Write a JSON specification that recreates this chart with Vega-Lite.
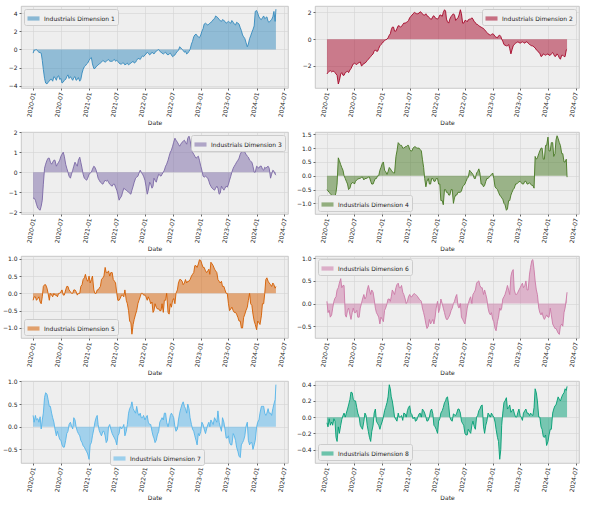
{
  "$schema": "https://vega.github.io/schema/vega-lite/v6.json",
  "background": "white",
  "padding": {"left": 2, "top": 5, "right": 5, "bottom": 0},
  "columns": 2,
  "spacing": {"row": 2, "column": 7},
  "data": {
    "values": [
      {"date": "2020-01-01", "d1": -0.4, "d2": -2.6, "d3": -1.3, "d4": -0.5, "d5": -0.2, "d6": 0.05, "d7": 0.25, "d8": -0.07},
      {"date": "2020-01-16", "d1": -0.05, "d2": -2.4, "d3": -1.4, "d4": -0.6, "d5": -0.1, "d6": -0.15, "d7": 0.25, "d8": -0.02},
      {"date": "2020-02-01", "d1": -0.2, "d2": -2.45, "d3": -1.8, "d4": -0.7, "d5": -0.15, "d6": -0.25, "d7": 0.18, "d8": -0.06},
      {"date": "2020-02-16", "d1": -0.35, "d2": -2.4, "d3": -1.9, "d4": -0.9, "d5": -0.25, "d6": 0.05, "d7": 0.22, "d8": -0.02},
      {"date": "2020-03-01", "d1": -1.2, "d2": -2.6, "d3": -1.4, "d4": -0.6, "d5": -0.1, "d6": 0.15, "d7": 0.15, "d8": -0.25},
      {"date": "2020-03-16", "d1": -3.2, "d2": -3.35, "d3": 0.2, "d4": 0.65, "d5": 0.25, "d6": 0.35, "d7": 0.65, "d8": -0.12},
      {"date": "2020-04-01", "d1": -3.8, "d2": -2.6, "d3": 0.6, "d4": 0.4, "d5": 0.15, "d6": 0.55, "d7": 0.72, "d8": -0.1},
      {"date": "2020-04-16", "d1": -3.5, "d2": -2.7, "d3": 0.7, "d4": 0.2, "d5": -0.2, "d6": 0.4, "d7": 0.45, "d8": 0.02},
      {"date": "2020-05-01", "d1": -3.3, "d2": -2.5, "d3": 0.4, "d4": -0.1, "d5": -0.05, "d6": -0.25, "d7": 0.3, "d8": 0.0},
      {"date": "2020-05-16", "d1": -3.0, "d2": -2.4, "d3": 0.6, "d4": -0.3, "d5": 0.0, "d6": -0.15, "d7": 0.1, "d8": 0.1},
      {"date": "2020-06-01", "d1": -3.4, "d2": -2.3, "d3": 0.3, "d4": -0.45, "d5": -0.05, "d6": -0.25, "d7": -0.2, "d8": 0.22},
      {"date": "2020-06-16", "d1": -2.9, "d2": -2.0, "d3": 0.5, "d4": -0.25, "d5": 0.0, "d6": -0.2, "d7": -0.2, "d8": 0.3},
      {"date": "2020-07-01", "d1": -3.2, "d2": -1.8, "d3": 0.8, "d4": -0.3, "d5": 0.05, "d6": -0.2, "d7": -0.3, "d8": 0.2},
      {"date": "2020-07-16", "d1": -3.6, "d2": -1.9, "d3": 1.0, "d4": -0.15, "d5": -0.05, "d6": -0.15, "d7": -0.45, "d8": 0.12},
      {"date": "2020-08-01", "d1": -3.3, "d2": -1.75, "d3": 0.4, "d4": -0.1, "d5": 0.1, "d6": -0.3, "d7": -0.3, "d8": 0.0},
      {"date": "2020-08-16", "d1": -2.8, "d2": -2.0, "d3": 0.0, "d4": -0.05, "d5": 0.2, "d6": 0.0, "d7": -0.1, "d8": -0.13},
      {"date": "2020-09-01", "d1": -3.0, "d2": -1.8, "d3": -0.3, "d4": -0.15, "d5": 0.05, "d6": 0.2, "d7": 0.1, "d8": -0.05},
      {"date": "2020-09-16", "d1": -3.4, "d2": -1.7, "d3": 0.1, "d4": -0.1, "d5": 0.0, "d6": 0.15, "d7": -0.05, "d8": 0.02},
      {"date": "2020-10-01", "d1": -3.0, "d2": -1.5, "d3": 0.5, "d4": -0.05, "d5": 0.1, "d6": 0.4, "d7": 0.15, "d8": -0.18},
      {"date": "2020-10-16", "d1": -3.3, "d2": -1.3, "d3": 0.3, "d4": -0.2, "d5": -0.05, "d6": 0.2, "d7": -0.1, "d8": -0.3},
      {"date": "2020-11-01", "d1": -3.5, "d2": -1.1, "d3": 0.75, "d4": -0.3, "d5": 0.0, "d6": 0.25, "d7": -0.2, "d8": -0.1},
      {"date": "2020-11-16", "d1": -2.6, "d2": -0.8, "d3": 0.2, "d4": -0.1, "d5": 0.25, "d6": -0.1, "d7": -0.35, "d8": 0.1},
      {"date": "2020-12-01", "d1": -1.9, "d2": -0.9, "d3": -0.3, "d4": 0.0, "d5": 0.45, "d6": -0.25, "d7": -0.45, "d8": -0.08},
      {"date": "2020-12-16", "d1": -1.6, "d2": -0.5, "d3": -0.4, "d4": 0.2, "d5": 0.4, "d6": -0.45, "d7": -0.55, "d8": -0.15},
      {"date": "2021-01-01", "d1": -1.2, "d2": -0.3, "d3": -0.1, "d4": 0.45, "d5": 0.5, "d6": -0.35, "d7": -0.72, "d8": -0.05},
      {"date": "2021-01-16", "d1": -0.9, "d2": -0.1, "d3": 0.0, "d4": 0.2, "d5": 0.4, "d6": -0.15, "d7": -0.35, "d8": 0.08},
      {"date": "2021-02-01", "d1": -2.1, "d2": 0.0, "d3": 0.3, "d4": 0.05, "d5": 0.1, "d6": 0.0, "d7": -0.05, "d8": 0.18},
      {"date": "2021-02-16", "d1": -1.9, "d2": 0.3, "d3": 0.1, "d4": 0.3, "d5": 0.0, "d6": 0.1, "d7": 0.2, "d8": 0.4},
      {"date": "2021-03-01", "d1": -1.7, "d2": 0.7, "d3": -0.3, "d4": 0.2, "d5": 0.1, "d6": 0.15, "d7": 0.05, "d8": 0.25},
      {"date": "2021-03-16", "d1": -1.5, "d2": 0.9, "d3": -0.5, "d4": 0.1, "d5": 0.2, "d6": 0.25, "d7": -0.15, "d8": 0.1},
      {"date": "2021-04-01", "d1": -1.2, "d2": 0.6, "d3": -0.6, "d4": 0.7, "d5": 0.45, "d6": 0.35, "d7": -0.1, "d8": -0.03},
      {"date": "2021-04-16", "d1": -1.4, "d2": 1.0, "d3": -0.4, "d4": 1.2, "d5": 0.75, "d6": 0.45, "d7": -0.2, "d8": 0.05},
      {"date": "2021-05-01", "d1": -1.2, "d2": 0.9, "d3": -0.4, "d4": 1.1, "d5": 0.6, "d6": 0.35, "d7": -0.3, "d8": 0.0},
      {"date": "2021-05-16", "d1": -1.3, "d2": 1.1, "d3": -0.6, "d4": 1.0, "d5": 0.5, "d6": 0.25, "d7": 0.05, "d8": -0.04},
      {"date": "2021-06-01", "d1": -1.3, "d2": 1.2, "d3": -0.7, "d4": 1.05, "d5": 0.6, "d6": 0.1, "d7": -0.15, "d8": 0.04},
      {"date": "2021-06-16", "d1": -1.1, "d2": 1.3, "d3": -0.6, "d4": 1.1, "d5": 0.35, "d6": 0.05, "d7": -0.25, "d8": 0.08},
      {"date": "2021-07-01", "d1": -1.2, "d2": 1.6, "d3": -0.9, "d4": 0.95, "d5": 0.0, "d6": 0.2, "d7": -0.4, "d8": 0.14},
      {"date": "2021-07-16", "d1": -1.5, "d2": 1.8, "d3": -1.4, "d4": 0.9, "d5": -0.2, "d6": 0.15, "d7": -0.15, "d8": 0.03},
      {"date": "2021-08-01", "d1": -1.6, "d2": 2.0, "d3": -1.2, "d4": 1.05, "d5": -0.05, "d6": 0.22, "d7": -0.05, "d8": 0.0},
      {"date": "2021-08-16", "d1": -1.5, "d2": 1.9, "d3": -0.8, "d4": 1.0, "d5": -0.1, "d6": 0.18, "d7": 0.05, "d8": -0.04},
      {"date": "2021-09-01", "d1": -1.6, "d2": 1.95, "d3": -0.9, "d4": 1.0, "d5": -0.2, "d6": 0.1, "d7": -0.1, "d8": 0.04},
      {"date": "2021-09-16", "d1": -1.7, "d2": 2.0, "d3": -1.0, "d4": 0.9, "d5": -0.5, "d6": 0.05, "d7": 0.3, "d8": 0.0},
      {"date": "2021-10-01", "d1": -1.5, "d2": 1.8, "d3": -1.1, "d4": 0.3, "d5": -0.85, "d6": -0.2, "d7": 0.45, "d8": 0.08},
      {"date": "2021-10-16", "d1": -1.3, "d2": 1.9, "d3": -0.7, "d4": -0.4, "d5": -0.9, "d6": -0.45, "d7": 0.4, "d8": 0.0},
      {"date": "2021-11-01", "d1": -1.4, "d2": 1.7, "d3": -0.3, "d4": -0.1, "d5": -0.6, "d6": -0.5, "d7": 0.3, "d8": -0.04},
      {"date": "2021-11-16", "d1": -1.0, "d2": 1.5, "d3": -0.2, "d4": -0.3, "d5": -0.3, "d6": -0.45, "d7": 0.3, "d8": 0.08},
      {"date": "2021-12-01", "d1": -1.1, "d2": 1.7, "d3": 0.1, "d4": -0.1, "d5": -0.1, "d6": -0.35, "d7": 0.3, "d8": 0.04},
      {"date": "2021-12-16", "d1": -0.7, "d2": 1.6, "d3": -0.1, "d4": -0.2, "d5": 0.0, "d6": -0.3, "d7": 0.2, "d8": -0.12},
      {"date": "2022-01-01", "d1": -0.6, "d2": 1.5, "d3": -0.4, "d4": -0.1, "d5": -0.05, "d6": 0.05, "d7": 0.15, "d8": -0.2},
      {"date": "2022-01-16", "d1": -0.3, "d2": 1.8, "d3": -1.1, "d4": -0.3, "d5": -0.2, "d6": -0.1, "d7": 0.25, "d8": -0.02},
      {"date": "2022-02-01", "d1": -0.6, "d2": 1.7, "d3": -0.5, "d4": -0.9, "d5": -0.2, "d6": 0.0, "d7": 0.05, "d8": 0.08},
      {"date": "2022-02-16", "d1": -0.3, "d2": 2.2, "d3": -0.8, "d4": -0.5, "d5": -0.25, "d6": -0.2, "d7": -0.1, "d8": 0.18},
      {"date": "2022-03-01", "d1": -0.5, "d2": 1.5, "d3": -0.3, "d4": -0.6, "d5": -0.5, "d6": -0.35, "d7": -0.25, "d8": 0.24},
      {"date": "2022-03-16", "d1": -0.2, "d2": 1.2, "d3": -0.5, "d4": -0.7, "d5": -0.4, "d6": -0.3, "d7": -0.3, "d8": 0.14},
      {"date": "2022-04-01", "d1": 0.0, "d2": 1.7, "d3": -0.1, "d4": -0.5, "d5": -0.45, "d6": -0.15, "d7": -0.1, "d8": -0.04},
      {"date": "2022-04-16", "d1": -0.3, "d2": 1.9, "d3": -0.2, "d4": -1.0, "d5": -0.5, "d6": 0.0, "d7": 0.15, "d8": 0.04},
      {"date": "2022-05-01", "d1": -0.5, "d2": 1.4, "d3": 0.0, "d4": -0.7, "d5": -0.55, "d6": 0.15, "d7": 0.15, "d8": 0.02},
      {"date": "2022-05-16", "d1": -0.3, "d2": 1.6, "d3": 0.3, "d4": -0.6, "d5": -0.2, "d6": -0.05, "d7": 0.3, "d8": 0.1},
      {"date": "2022-06-01", "d1": -0.6, "d2": 2.2, "d3": 0.6, "d4": -0.6, "d5": -0.55, "d6": 0.0, "d7": 0.0, "d8": 0.05},
      {"date": "2022-06-16", "d1": -0.4, "d2": 1.2, "d3": 1.0, "d4": -0.4, "d5": -0.3, "d6": -0.35, "d7": 0.25, "d8": -0.08},
      {"date": "2022-07-01", "d1": -0.8, "d2": 1.4, "d3": 1.3, "d4": -0.3, "d5": -0.2, "d6": -0.45, "d7": 0.25, "d8": -0.2},
      {"date": "2022-07-16", "d1": -0.6, "d2": 1.3, "d3": 1.7, "d4": -0.1, "d5": -0.3, "d6": -0.1, "d7": 0.0, "d8": -0.22},
      {"date": "2022-08-01", "d1": -0.2, "d2": 1.5, "d3": 1.5, "d4": 0.2, "d5": 0.1, "d6": 0.1, "d7": -0.05, "d8": -0.18},
      {"date": "2022-08-16", "d1": 0.3, "d2": 1.6, "d3": 1.3, "d4": 0.1, "d5": 0.4, "d6": 0.0, "d7": 0.3, "d8": -0.1},
      {"date": "2022-09-01", "d1": 0.0, "d2": 1.3, "d3": 1.5, "d4": -0.1, "d5": 0.35, "d6": 0.25, "d7": 0.5, "d8": -0.12},
      {"date": "2022-09-16", "d1": -0.3, "d2": 1.1, "d3": 1.6, "d4": 0.1, "d5": 0.3, "d6": 0.45, "d7": 0.45, "d8": 0.0},
      {"date": "2022-10-01", "d1": -0.5, "d2": 1.0, "d3": 1.4, "d4": 0.25, "d5": 0.3, "d6": 0.5, "d7": 0.3, "d8": 0.08},
      {"date": "2022-10-16", "d1": -0.2, "d2": 0.9, "d3": 1.8, "d4": -0.3, "d5": 0.35, "d6": 0.35, "d7": 0.4, "d8": 0.14},
      {"date": "2022-11-01", "d1": 0.6, "d2": 0.8, "d3": 1.2, "d4": -0.4, "d5": 0.5, "d6": 0.2, "d7": 0.05, "d8": -0.12},
      {"date": "2022-11-16", "d1": 1.4, "d2": 0.6, "d3": 0.9, "d4": -0.2, "d5": 0.6, "d6": 0.2, "d7": -0.1, "d8": -0.1},
      {"date": "2022-12-01", "d1": 1.7, "d2": 0.4, "d3": 0.7, "d4": -0.1, "d5": 0.8, "d6": -0.1, "d7": -0.3, "d8": 0.05},
      {"date": "2022-12-16", "d1": 1.4, "d2": 0.3, "d3": 0.8, "d4": 0.0, "d5": 0.85, "d6": -0.25, "d7": -0.15, "d8": 0.0},
      {"date": "2023-01-01", "d1": 1.6, "d2": 0.4, "d3": 0.3, "d4": 0.1, "d5": 0.95, "d6": -0.35, "d7": -0.1, "d8": 0.02},
      {"date": "2023-01-16", "d1": 2.3, "d2": 0.2, "d3": -0.2, "d4": -0.4, "d5": 0.75, "d6": -0.55, "d7": 0.05, "d8": -0.06},
      {"date": "2023-02-01", "d1": 2.9, "d2": 0.1, "d3": -0.2, "d4": -0.5, "d5": 0.65, "d6": -0.4, "d7": -0.15, "d8": -0.25},
      {"date": "2023-02-16", "d1": 2.7, "d2": 0.3, "d3": -0.3, "d4": -0.7, "d5": 0.65, "d6": -0.1, "d7": 0.05, "d8": -0.52},
      {"date": "2023-03-01", "d1": 2.9, "d2": 0.0, "d3": -0.6, "d4": -0.8, "d5": 0.55, "d6": -0.1, "d7": 0.0, "d8": -0.1},
      {"date": "2023-03-16", "d1": 3.1, "d2": -0.4, "d3": -0.8, "d4": -1.0, "d5": 0.85, "d6": 0.15, "d7": 0.1, "d8": 0.18},
      {"date": "2023-04-01", "d1": 3.4, "d2": -0.5, "d3": -0.9, "d4": -1.25, "d5": 0.7, "d6": 0.3, "d7": 0.2, "d8": 0.24},
      {"date": "2023-04-16", "d1": 3.6, "d2": -0.4, "d3": -0.7, "d4": -0.9, "d5": 0.6, "d6": 0.3, "d7": 0.1, "d8": 0.12},
      {"date": "2023-05-01", "d1": 3.3, "d2": -1.1, "d3": -1.1, "d4": -0.7, "d5": 0.35, "d6": 0.6, "d7": 0.1, "d8": 0.06},
      {"date": "2023-05-16", "d1": 3.1, "d2": -0.5, "d3": -0.7, "d4": -0.5, "d5": 0.35, "d6": 0.75, "d7": -0.1, "d8": 0.1},
      {"date": "2023-06-01", "d1": 3.2, "d2": -0.3, "d3": -0.9, "d4": -0.3, "d5": 0.2, "d6": 0.2, "d7": 0.1, "d8": 0.0},
      {"date": "2023-06-16", "d1": 2.9, "d2": -0.2, "d3": -0.7, "d4": -0.25, "d5": 0.0, "d6": 0.25, "d7": -0.25, "d8": 0.06},
      {"date": "2023-07-01", "d1": 3.1, "d2": -0.3, "d3": -0.6, "d4": -0.2, "d5": -0.3, "d6": 0.35, "d7": -0.2, "d8": 0.02},
      {"date": "2023-07-16", "d1": 2.9, "d2": -0.2, "d3": -0.2, "d4": -0.3, "d5": -0.45, "d6": 0.45, "d7": -0.4, "d8": -0.04},
      {"date": "2023-08-01", "d1": 3.0, "d2": -0.3, "d3": 0.2, "d4": -0.2, "d5": -0.5, "d6": 0.4, "d7": -0.15, "d8": 0.08},
      {"date": "2023-08-16", "d1": 2.7, "d2": -0.2, "d3": 0.4, "d4": -0.3, "d5": -0.55, "d6": 0.3, "d7": -0.3, "d8": 0.05},
      {"date": "2023-09-01", "d1": 2.9, "d2": -0.4, "d3": 0.6, "d4": -0.25, "d5": -0.7, "d6": 0.65, "d7": -0.55, "d8": 0.02},
      {"date": "2023-09-16", "d1": 2.4, "d2": -0.5, "d3": 0.9, "d4": -0.35, "d5": -0.8, "d6": 0.95, "d7": -0.68, "d8": 0.03},
      {"date": "2023-10-01", "d1": 1.6, "d2": -0.6, "d3": 1.1, "d4": -0.45, "d5": -1.0, "d6": 0.75, "d7": -0.35, "d8": 0.12},
      {"date": "2023-10-16", "d1": 1.2, "d2": -0.8, "d3": 1.0, "d4": 0.6, "d5": -0.6, "d6": 0.3, "d7": -0.2, "d8": 0.3},
      {"date": "2023-11-01", "d1": 0.3, "d2": -1.0, "d3": 0.8, "d4": 0.8, "d5": -0.4, "d6": -0.1, "d7": 0.1, "d8": 0.0},
      {"date": "2023-11-16", "d1": 1.2, "d2": -1.3, "d3": 0.6, "d4": 1.0, "d5": 0.0, "d6": -0.25, "d7": -0.4, "d8": -0.12},
      {"date": "2023-12-01", "d1": 1.9, "d2": -1.1, "d3": 0.5, "d4": 0.6, "d5": -0.35, "d6": -0.3, "d7": -0.35, "d8": -0.24},
      {"date": "2023-12-16", "d1": 2.6, "d2": -1.2, "d3": 0.0, "d4": 1.1, "d5": -0.8, "d6": -0.3, "d7": -0.4, "d8": -0.22},
      {"date": "2024-01-01", "d1": 4.3, "d2": -1.1, "d3": 0.3, "d4": 1.4, "d5": -1.05, "d6": -0.3, "d7": 0.0, "d8": -0.3},
      {"date": "2024-01-16", "d1": 3.6, "d2": -1.2, "d3": 0.2, "d4": 0.9, "d5": -0.85, "d6": -0.1, "d7": 0.15, "d8": -0.15},
      {"date": "2024-02-01", "d1": 3.3, "d2": -1.0, "d3": 0.3, "d4": 1.2, "d5": -0.65, "d6": -0.45, "d7": 0.45, "d8": 0.05},
      {"date": "2024-02-16", "d1": 3.7, "d2": -1.3, "d3": 0.1, "d4": 0.8, "d5": -0.3, "d6": -0.55, "d7": 0.45, "d8": 0.14},
      {"date": "2024-03-01", "d1": 3.5, "d2": -1.1, "d3": 0.2, "d4": 1.45, "d5": 0.4, "d6": -0.6, "d7": 0.25, "d8": 0.2},
      {"date": "2024-03-16", "d1": 3.1, "d2": -1.4, "d3": 0.3, "d4": 1.2, "d5": 0.35, "d6": -0.68, "d7": 0.4, "d8": 0.22},
      {"date": "2024-04-01", "d1": 3.2, "d2": -1.2, "d3": -0.3, "d4": 0.8, "d5": 0.25, "d6": -0.45, "d7": 0.3, "d8": 0.25},
      {"date": "2024-04-16", "d1": 3.6, "d2": -1.3, "d3": 0.1, "d4": 0.5, "d5": 0.3, "d6": -0.2, "d7": 0.4, "d8": 0.3},
      {"date": "2024-05-01", "d1": 3.1, "d2": -0.8, "d3": -0.1, "d4": 0.6, "d5": 0.15, "d6": 0.1, "d7": 0.6, "d8": 0.33},
      {"date": "2024-05-06", "d1": 4.45, "d2": -0.75, "d3": -0.15, "d4": -0.05, "d5": 0.2, "d6": 0.25, "d7": 0.93, "d8": 0.38},
      {"date": "2020-01-08", "d1": -0.1, "d2": -2.5, "d3": -1.3, "d4": -0.55, "d5": -0.1, "d6": -0.2, "d7": 0.1, "d8": -0.12},
      {"date": "2020-01-23", "d1": 0.0, "d2": -2.35, "d3": -1.6, "d4": -0.65, "d5": -0.2, "d6": -0.3, "d7": 0.15, "d8": -0.1},
      {"date": "2020-02-08", "d1": -0.3, "d2": -2.4, "d3": -1.85, "d4": -0.8, "d5": -0.1, "d6": -0.1, "d7": 0.1, "d8": -0.1},
      {"date": "2020-02-23", "d1": -0.4, "d2": -2.5, "d3": -1.7, "d4": -0.75, "d5": -0.3, "d6": 0.12, "d7": -0.05, "d8": -0.05},
      {"date": "2020-03-08", "d1": -2.2, "d2": -2.7, "d3": -0.6, "d4": -0.3, "d5": 0.2, "d6": 0.3, "d7": 0.3, "d8": -0.3},
      {"date": "2020-03-23", "d1": -3.7, "d2": -3.1, "d3": 0.4, "d4": 0.55, "d5": 0.25, "d6": 0.45, "d7": 0.75, "d8": -0.2},
      {"date": "2020-04-08", "d1": -3.6, "d2": -2.5, "d3": 0.7, "d4": 0.3, "d5": 0.0, "d6": 0.35, "d7": 0.6, "d8": -0.03},
      {"date": "2020-04-23", "d1": -3.3, "d2": -2.7, "d3": 0.5, "d4": 0.0, "d5": 0.0, "d6": 0.4, "d7": 0.45, "d8": 0.05},
      {"date": "2020-05-08", "d1": -3.5, "d2": -2.45, "d3": 0.5, "d4": -0.2, "d5": -0.1, "d6": -0.3, "d7": 0.2, "d8": 0.05},
      {"date": "2020-05-23", "d1": -3.1, "d2": -2.5, "d3": 0.6, "d4": -0.5, "d5": -0.05, "d6": -0.1, "d7": -0.05, "d8": 0.15},
      {"date": "2020-06-08", "d1": -3.0, "d2": -2.2, "d3": 0.4, "d4": -0.3, "d5": -0.1, "d6": -0.35, "d7": -0.1, "d8": 0.31},
      {"date": "2020-06-23", "d1": -3.3, "d2": -1.85, "d3": 0.6, "d4": -0.25, "d5": 0.0, "d6": -0.1, "d7": -0.28, "d8": 0.22},
      {"date": "2020-07-08", "d1": -3.7, "d2": -1.85, "d3": 0.9, "d4": -0.2, "d5": 0.1, "d6": -0.2, "d7": -0.4, "d8": 0.2},
      {"date": "2020-07-23", "d1": -3.4, "d2": -1.8, "d3": 0.8, "d4": -0.12, "d5": -0.05, "d6": -0.3, "d7": -0.45, "d8": 0.05},
      {"date": "2020-08-08", "d1": -3.0, "d2": -1.7, "d3": 0.2, "d4": -0.1, "d5": 0.2, "d6": -0.1, "d7": -0.15, "d8": -0.1},
      {"date": "2020-08-23", "d1": -3.2, "d2": -1.95, "d3": -0.2, "d4": -0.05, "d5": 0.1, "d6": 0.1, "d7": 0.05, "d8": -0.15},
      {"date": "2020-09-08", "d1": -3.2, "d2": -1.8, "d3": -0.1, "d4": -0.1, "d5": 0.0, "d6": 0.1, "d7": 0.02, "d8": 0.05},
      {"date": "2020-09-23", "d1": -3.1, "d2": -1.6, "d3": 0.3, "d4": -0.08, "d5": 0.1, "d6": 0.3, "d7": 0.2, "d8": -0.1},
      {"date": "2020-10-08", "d1": -3.4, "d2": -1.4, "d3": 0.4, "d4": -0.05, "d5": 0.05, "d6": 0.3, "d7": 0.0, "d8": -0.25},
      {"date": "2020-10-23", "d1": -3.1, "d2": -1.2, "d3": 0.6, "d4": -0.3, "d5": 0.0, "d6": 0.3, "d7": -0.15, "d8": -0.18},
      {"date": "2020-11-08", "d1": -3.3, "d2": -0.9, "d3": 0.5, "d4": -0.2, "d5": 0.2, "d6": 0.1, "d7": -0.3, "d8": 0.05},
      {"date": "2020-11-23", "d1": -2.2, "d2": -0.9, "d3": -0.1, "d4": -0.1, "d5": 0.4, "d6": -0.2, "d7": -0.42, "d8": -0.05},
      {"date": "2020-12-08", "d1": -1.8, "d2": -0.7, "d3": -0.35, "d4": 0.0, "d5": 0.55, "d6": -0.3, "d7": -0.5, "d8": -0.1},
      {"date": "2020-12-23", "d1": -1.5, "d2": -0.4, "d3": -0.3, "d4": 0.3, "d5": 0.35, "d6": -0.3, "d7": -0.6, "d8": -0.1},
      {"date": "2021-01-08", "d1": -1.0, "d2": -0.2, "d3": -0.05, "d4": 0.5, "d5": 0.3, "d6": -0.4, "d7": -0.4, "d8": 0.0},
      {"date": "2021-01-23", "d1": -1.6, "d2": -0.05, "d3": 0.15, "d4": 0.15, "d5": 0.5, "d6": -0.1, "d7": -0.2, "d8": 0.12},
      {"date": "2021-02-08", "d1": -2.1, "d2": 0.1, "d3": 0.25, "d4": 0.15, "d5": 0.0, "d6": 0.1, "d7": 0.1, "d8": 0.25},
      {"date": "2021-02-23", "d1": -1.8, "d2": 0.4, "d3": -0.1, "d4": 0.25, "d5": 0.1, "d6": 0.05, "d7": 0.25, "d8": 0.35},
      {"date": "2021-03-08", "d1": -1.6, "d2": 0.9, "d3": -0.4, "d4": 0.15, "d5": 0.15, "d6": 0.3, "d7": -0.08, "d8": 0.2},
      {"date": "2021-03-23", "d1": -1.4, "d2": 0.6, "d3": -0.55, "d4": 0.1, "d5": 0.4, "d6": 0.2, "d7": -0.2, "d8": 0.0},
      {"date": "2021-04-08", "d1": -1.3, "d2": 0.8, "d3": -0.5, "d4": 0.9, "d5": 0.5, "d6": 0.42, "d7": -0.1, "d8": -0.05},
      {"date": "2021-04-23", "d1": -1.3, "d2": 1.0, "d3": -0.45, "d4": 1.15, "d5": 0.6, "d6": 0.35, "d7": -0.35, "d8": 0.0},
      {"date": "2021-05-08", "d1": -1.1, "d2": 0.95, "d3": -0.5, "d4": 1.1, "d5": 0.65, "d6": 0.4, "d7": 0.0, "d8": 0.02},
      {"date": "2021-05-23", "d1": -1.3, "d2": 1.2, "d3": -0.65, "d4": 1.0, "d5": 0.6, "d6": 0.2, "d7": -0.05, "d8": 0.05},
      {"date": "2021-06-08", "d1": -1.2, "d2": 1.25, "d3": -0.6, "d4": 1.05, "d5": 0.4, "d6": 0.0, "d7": -0.2, "d8": 0.0},
      {"date": "2021-06-23", "d1": -1.3, "d2": 1.4, "d3": -0.75, "d4": 1.1, "d5": 0.3, "d6": 0.15, "d7": -0.3, "d8": 0.12},
      {"date": "2021-07-08", "d1": -1.3, "d2": 1.7, "d3": -1.1, "d4": 0.9, "d5": -0.2, "d6": 0.15, "d7": -0.2, "d8": 0.05},
      {"date": "2021-07-23", "d1": -1.6, "d2": 1.9, "d3": -1.3, "d4": 1.0, "d5": -0.15, "d6": 0.2, "d7": 0.0, "d8": -0.02},
      {"date": "2021-08-08", "d1": -1.5, "d2": 1.95, "d3": -1.0, "d4": 1.05, "d5": -0.05, "d6": 0.2, "d7": -0.02, "d8": -0.05},
      {"date": "2021-08-23", "d1": -1.7, "d2": 1.9, "d3": -0.85, "d4": 1.0, "d5": 0.1, "d6": 0.15, "d7": -0.2, "d8": 0.0},
      {"date": "2021-09-08", "d1": -1.5, "d2": 2.05, "d3": -0.95, "d4": 0.95, "d5": -0.3, "d6": 0.08, "d7": 0.05, "d8": 0.05},
      {"date": "2021-09-23", "d1": -1.6, "d2": 1.9, "d3": -1.05, "d4": 0.6, "d5": -0.8, "d6": -0.1, "d7": 0.4, "d8": 0.1},
      {"date": "2021-10-08", "d1": -1.4, "d2": 1.8, "d3": -0.9, "d4": -0.1, "d5": -1.18, "d6": -0.3, "d7": 0.55, "d8": 0.05},
      {"date": "2021-10-23", "d1": -1.5, "d2": 1.75, "d3": -0.5, "d4": -0.2, "d5": -0.75, "d6": -0.55, "d7": 0.35, "d8": -0.05},
      {"date": "2021-11-08", "d1": -1.2, "d2": 1.6, "d3": -0.25, "d4": -0.3, "d5": -0.5, "d6": -0.35, "d7": 0.45, "d8": 0.0},
      {"date": "2021-11-23", "d1": -1.0, "d2": 1.5, "d3": -0.05, "d4": -0.1, "d5": -0.2, "d6": -0.4, "d7": 0.25, "d8": 0.1},
      {"date": "2021-12-08", "d1": -0.9, "d2": 1.75, "d3": 0.0, "d4": -0.2, "d5": 0.0, "d6": -0.45, "d7": 0.2, "d8": -0.1},
      {"date": "2021-12-23", "d1": -0.8, "d2": 1.55, "d3": -0.2, "d4": -0.1, "d5": -0.05, "d6": -0.1, "d7": 0.25, "d8": -0.15},
      {"date": "2022-01-08", "d1": -0.5, "d2": 1.6, "d3": -0.7, "d4": -0.3, "d5": -0.1, "d6": -0.2, "d7": 0.2, "d8": -0.05},
      {"date": "2022-01-23", "d1": -0.4, "d2": 1.8, "d3": -0.9, "d4": -0.9, "d5": -0.1, "d6": 0.1, "d7": 0.1, "d8": 0.05},
      {"date": "2022-02-08", "d1": -0.5, "d2": 2.0, "d3": -0.6, "d4": -1.05, "d5": -0.3, "d6": -0.1, "d7": 0.05, "d8": 0.12},
      {"date": "2022-02-23", "d1": -0.4, "d2": 2.1, "d3": -0.7, "d4": -0.5, "d5": -0.55, "d6": -0.3, "d7": -0.2, "d8": 0.2},
      {"date": "2022-03-08", "d1": -0.3, "d2": 1.3, "d3": -0.4, "d4": -0.6, "d5": -0.3, "d6": -0.35, "d7": -0.35, "d8": 0.25},
      {"date": "2022-03-23", "d1": -0.1, "d2": 1.5, "d3": -0.3, "d4": -0.7, "d5": -0.45, "d6": -0.25, "d7": -0.18, "d8": 0.0},
      {"date": "2022-04-08", "d1": -0.2, "d2": 1.8, "d3": -0.15, "d4": -0.5, "d5": -0.5, "d6": -0.1, "d7": 0.1, "d8": -0.05},
      {"date": "2022-04-23", "d1": -0.4, "d2": 1.8, "d3": -0.1, "d4": -0.8, "d5": -0.3, "d6": 0.05, "d7": 0.2, "d8": 0.03},
      {"date": "2022-05-08", "d1": -0.4, "d2": 1.5, "d3": 0.1, "d4": -0.7, "d5": -0.2, "d6": 0.2, "d7": 0.3, "d8": 0.05},
      {"date": "2022-05-23", "d1": -0.5, "d2": 1.8, "d3": 0.4, "d4": -0.6, "d5": 0.0, "d6": -0.1, "d7": 0.1, "d8": 0.1},
      {"date": "2022-06-08", "d1": -0.5, "d2": 1.9, "d3": 0.8, "d4": -0.55, "d5": -0.6, "d6": -0.3, "d7": 0.1, "d8": -0.05},
      {"date": "2022-06-23", "d1": -0.6, "d2": 1.2, "d3": 1.1, "d4": -0.35, "d5": -0.4, "d6": -0.4, "d7": 0.3, "d8": -0.1},
      {"date": "2022-07-08", "d1": -0.7, "d2": 1.4, "d3": 1.5, "d4": -0.2, "d5": -0.15, "d6": -0.3, "d7": 0.2, "d8": -0.22},
      {"date": "2022-07-23", "d1": -0.4, "d2": 1.45, "d3": 1.6, "d4": -0.05, "d5": 0.0, "d6": 0.0, "d7": -0.1, "d8": -0.15},
      {"date": "2022-08-08", "d1": -0.1, "d2": 1.5, "d3": 1.4, "d4": 0.15, "d5": 0.3, "d6": 0.15, "d7": 0.15, "d8": -0.2},
      {"date": "2022-08-23", "d1": 0.2, "d2": 1.5, "d3": 1.4, "d4": 0.05, "d5": 0.4, "d6": 0.2, "d7": 0.4, "d8": -0.05},
      {"date": "2022-09-08", "d1": -0.1, "d2": 1.25, "d3": 1.55, "d4": -0.1, "d5": 0.25, "d6": 0.3, "d7": 0.55, "d8": -0.15},
      {"date": "2022-09-23", "d1": -0.2, "d2": 1.1, "d3": 1.5, "d4": 0.15, "d5": 0.4, "d6": 0.48, "d7": 0.4, "d8": 0.02},
      {"date": "2022-10-08", "d1": -0.4, "d2": 0.95, "d3": 1.7, "d4": 0.1, "d5": 0.35, "d6": 0.4, "d7": 0.5, "d8": 0.1},
      {"date": "2022-10-23", "d1": 0.0, "d2": 0.85, "d3": 1.6, "d4": -0.3, "d5": 0.4, "d6": 0.35, "d7": 0.2, "d8": 0.15},
      {"date": "2022-11-08", "d1": 0.9, "d2": 0.7, "d3": 1.0, "d4": -0.35, "d5": 0.55, "d6": 0.3, "d7": -0.05, "d8": -0.2},
      {"date": "2022-11-23", "d1": 1.6, "d2": 0.5, "d3": 0.8, "d4": -0.1, "d5": 0.8, "d6": 0.1, "d7": -0.2, "d8": -0.05},
      {"date": "2022-12-08", "d1": 1.5, "d2": 0.35, "d3": 0.75, "d4": -0.05, "d5": 0.75, "d6": -0.2, "d7": -0.4, "d8": 0.03},
      {"date": "2022-12-23", "d1": 1.3, "d2": 0.35, "d3": 0.6, "d4": 0.05, "d5": 0.97, "d6": -0.2, "d7": -0.2, "d8": 0.05},
      {"date": "2023-01-08", "d1": 2.0, "d2": 0.35, "d3": 0.1, "d4": -0.1, "d5": 0.85, "d6": -0.4, "d7": 0.1, "d8": 0.0},
      {"date": "2023-01-23", "d1": 2.8, "d2": 0.15, "d3": -0.25, "d4": -0.45, "d5": 0.75, "d6": -0.6, "d7": -0.05, "d8": -0.15},
      {"date": "2023-02-08", "d1": 2.8, "d2": 0.25, "d3": -0.25, "d4": -0.6, "d5": 0.6, "d6": -0.3, "d7": -0.05, "d8": -0.3},
      {"date": "2023-02-23", "d1": 2.8, "d2": 0.2, "d3": -0.45, "d4": -0.75, "d5": 0.7, "d6": -0.15, "d7": 0.1, "d8": -0.4},
      {"date": "2023-03-08", "d1": 3.0, "d2": -0.15, "d3": -0.7, "d4": -0.85, "d5": 0.9, "d6": 0.1, "d7": 0.15, "d8": 0.05},
      {"date": "2023-03-23", "d1": 3.3, "d2": -0.45, "d3": -0.85, "d4": -1.05, "d5": 0.8, "d6": 0.2, "d7": 0.05, "d8": 0.2},
      {"date": "2023-04-08", "d1": 3.7, "d2": -0.5, "d3": -0.8, "d4": -1.2, "d5": 0.65, "d6": 0.4, "d7": 0.15, "d8": 0.1},
      {"date": "2023-04-23", "d1": 3.5, "d2": -0.7, "d3": -0.8, "d4": -0.9, "d5": 0.4, "d6": 0.2, "d7": 0.35, "d8": 0.15},
      {"date": "2023-05-08", "d1": 3.2, "d2": -0.8, "d3": -1.05, "d4": -0.6, "d5": 0.3, "d6": 0.7, "d7": 0.0, "d8": 0.08},
      {"date": "2023-05-23", "d1": 3.3, "d2": -0.4, "d3": -0.8, "d4": -0.45, "d5": 0.2, "d6": 0.3, "d7": 0.2, "d8": 0.05},
      {"date": "2023-06-08", "d1": 3.1, "d2": -0.25, "d3": -0.8, "d4": -0.3, "d5": 0.1, "d6": 0.2, "d7": -0.05, "d8": 0.0},
      {"date": "2023-06-23", "d1": 3.0, "d2": -0.25, "d3": -0.75, "d4": -0.22, "d5": 0.0, "d6": 0.3, "d7": -0.25, "d8": 0.1},
      {"date": "2023-07-08", "d1": 3.0, "d2": -0.25, "d3": -0.4, "d4": -0.25, "d5": -0.5, "d6": 0.4, "d7": -0.35, "d8": 0.0},
      {"date": "2023-07-23", "d1": 3.2, "d2": -0.25, "d3": 0.0, "d4": -0.3, "d5": -0.4, "d6": 0.35, "d7": -0.4, "d8": 0.05},
      {"date": "2023-08-08", "d1": 2.8, "d2": -0.2, "d3": 0.3, "d4": -0.2, "d5": -0.55, "d6": 0.5, "d7": -0.2, "d8": 0.1},
      {"date": "2023-08-23", "d1": 3.0, "d2": -0.3, "d3": 0.5, "d4": -0.3, "d5": -0.6, "d6": 0.3, "d7": -0.45, "d8": 0.05},
      {"date": "2023-09-08", "d1": 2.8, "d2": -0.45, "d3": 0.7, "d4": -0.3, "d5": -0.8, "d6": 0.8, "d7": -0.65, "d8": 0.05},
      {"date": "2023-09-23", "d1": 2.1, "d2": -0.5, "d3": 1.0, "d4": -0.35, "d5": -1.0, "d6": 0.97, "d7": -0.4, "d8": 0.02},
      {"date": "2023-10-08", "d1": 1.4, "d2": -0.65, "d3": 1.1, "d4": 0.7, "d5": -0.7, "d6": 0.5, "d7": -0.3, "d8": 0.35},
      {"date": "2023-10-23", "d1": 0.8, "d2": -0.85, "d3": 0.9, "d4": 0.65, "d5": -0.5, "d6": 0.2, "d7": 0.0, "d8": 0.2},
      {"date": "2023-11-08", "d1": 0.6, "d2": -1.05, "d3": 0.75, "d4": 0.9, "d5": -0.2, "d6": -0.2, "d7": -0.3, "d8": 0.0},
      {"date": "2023-11-23", "d1": 1.5, "d2": -1.25, "d3": 0.55, "d4": 1.0, "d5": -0.3, "d6": -0.2, "d7": -0.35, "d8": -0.15},
      {"date": "2023-12-08", "d1": 2.2, "d2": -1.15, "d3": 0.3, "d4": 0.6, "d5": -0.6, "d6": -0.35, "d7": -0.5, "d8": -0.25},
      {"date": "2023-12-23", "d1": 4.2, "d2": -1.15, "d3": 0.0, "d4": 1.1, "d5": -0.9, "d6": -0.25, "d7": -0.3, "d8": -0.35},
      {"date": "2024-01-08", "d1": 4.0, "d2": -1.2, "d3": 0.25, "d4": 0.9, "d5": -0.8, "d6": -0.3, "d7": 0.1, "d8": -0.22},
      {"date": "2024-01-23", "d1": 3.4, "d2": -1.1, "d3": 0.3, "d4": 1.2, "d5": -0.9, "d6": -0.25, "d7": 0.3, "d8": -0.15},
      {"date": "2024-02-08", "d1": 3.5, "d2": -1.15, "d3": 0.15, "d4": 0.7, "d5": -0.3, "d6": -0.5, "d7": 0.45, "d8": 0.1},
      {"date": "2024-02-23", "d1": 3.4, "d2": -1.25, "d3": 0.25, "d4": 1.3, "d5": 0.0, "d6": -0.55, "d7": 0.3, "d8": 0.15},
      {"date": "2024-03-08", "d1": 3.6, "d2": -1.2, "d3": 0.25, "d4": 1.35, "d5": 0.45, "d6": -0.65, "d7": 0.3, "d8": 0.25},
      {"date": "2024-03-23", "d1": 3.0, "d2": -1.5, "d3": 0.2, "d4": 1.1, "d5": 0.3, "d6": -0.5, "d7": 0.3, "d8": 0.2},
      {"date": "2024-04-08", "d1": 3.3, "d2": -1.2, "d3": -0.1, "d4": 0.8, "d5": 0.2, "d6": -0.5, "d7": 0.25, "d8": 0.28},
      {"date": "2024-04-23", "d1": 4.2, "d2": -1.3, "d3": 0.05, "d4": 0.5, "d5": 0.25, "d6": -0.1, "d7": 0.5, "d8": 0.35}
    ]
  },
  "concat": [
    {
      "width": 267, "height": 82,
      "encoding": {
        "x": {"field": "date", "type": "temporal", "scale": {"type": "utc", "domain": [{"year": 2019, "month": 10, "date": 14, "utc": true}, {"year": 2024, "month": 7, "date": 24, "utc": true}]}, "axis": {"title": "Date", "format": "%Y-%m", "labelAngle": -80, "values": [{"year": 2020, "month": 1, "date": 1, "utc": true}, {"year": 2020, "month": 7, "date": 1, "utc": true}, {"year": 2021, "month": 1, "date": 1, "utc": true}, {"year": 2021, "month": 7, "date": 1, "utc": true}, {"year": 2022, "month": 1, "date": 1, "utc": true}, {"year": 2022, "month": 7, "date": 1, "utc": true}, {"year": 2023, "month": 1, "date": 1, "utc": true}, {"year": 2023, "month": 7, "date": 1, "utc": true}, {"year": 2024, "month": 1, "date": 1, "utc": true}, {"year": 2024, "month": 7, "date": 1, "utc": true}]}},
        "y": {"field": "d1", "type": "quantitative", "scale": {"domain": [-4.25, 4.8], "nice": false, "zero": false}, "axis": {"title": null, "values": [-4, -2, 0, 2, 4], "tickCount": 12, "format": "d"}}
      },
      "layer": [
        {"mark": {"type": "area", "opacity": 0.5}, "encoding": {"y2": {"datum": 0}, "color": {"datum": "Industrials Dimension 1", "scale": {"range": ["#348ABD"]}, "legend": {"title": null, "orient": "top-left"}}}},
        {"mark": {"type": "line", "strokeWidth": 0.9, "color": "#348ABD"}, "encoding": {}}
      ]
    },
    {
      "width": 264, "height": 82,
      "encoding": {
        "x": {"field": "date", "type": "temporal", "scale": {"type": "utc", "domain": [{"year": 2019, "month": 10, "date": 14, "utc": true}, {"year": 2024, "month": 7, "date": 24, "utc": true}]}, "axis": {"title": "Date", "format": "%Y-%m", "labelAngle": -80, "values": [{"year": 2020, "month": 1, "date": 1, "utc": true}, {"year": 2020, "month": 7, "date": 1, "utc": true}, {"year": 2021, "month": 1, "date": 1, "utc": true}, {"year": 2021, "month": 7, "date": 1, "utc": true}, {"year": 2022, "month": 1, "date": 1, "utc": true}, {"year": 2022, "month": 7, "date": 1, "utc": true}, {"year": 2023, "month": 1, "date": 1, "utc": true}, {"year": 2023, "month": 7, "date": 1, "utc": true}, {"year": 2024, "month": 1, "date": 1, "utc": true}, {"year": 2024, "month": 7, "date": 1, "utc": true}]}},
        "y": {"field": "d2", "type": "quantitative", "scale": {"domain": [-3.65, 2.48], "nice": false, "zero": false}, "axis": {"title": null, "values": [-2, 0, 2], "tickCount": 12, "format": "d"}}
      },
      "layer": [
        {"mark": {"type": "area", "opacity": 0.5}, "encoding": {"y2": {"datum": 0}, "color": {"datum": "Industrials Dimension 2", "scale": {"range": ["#A60628"]}, "legend": {"title": null, "orient": "top-right"}}}},
        {"mark": {"type": "line", "strokeWidth": 0.9, "color": "#A60628"}, "encoding": {}}
      ]
    },
    {
      "width": 267, "height": 82,
      "encoding": {
        "x": {"field": "date", "type": "temporal", "scale": {"type": "utc", "domain": [{"year": 2019, "month": 10, "date": 14, "utc": true}, {"year": 2024, "month": 7, "date": 24, "utc": true}]}, "axis": {"title": "Date", "format": "%Y-%m", "labelAngle": -80, "values": [{"year": 2020, "month": 1, "date": 1, "utc": true}, {"year": 2020, "month": 7, "date": 1, "utc": true}, {"year": 2021, "month": 1, "date": 1, "utc": true}, {"year": 2021, "month": 7, "date": 1, "utc": true}, {"year": 2022, "month": 1, "date": 1, "utc": true}, {"year": 2022, "month": 7, "date": 1, "utc": true}, {"year": 2023, "month": 1, "date": 1, "utc": true}, {"year": 2023, "month": 7, "date": 1, "utc": true}, {"year": 2024, "month": 1, "date": 1, "utc": true}, {"year": 2024, "month": 7, "date": 1, "utc": true}]}},
        "y": {"field": "d3", "type": "quantitative", "scale": {"domain": [-2.09, 2.01], "nice": false, "zero": false}, "axis": {"title": null, "values": [-2, -1, 0, 1, 2], "tickCount": 12, "format": "d"}}
      },
      "layer": [
        {"mark": {"type": "area", "opacity": 0.5}, "encoding": {"y2": {"datum": 0}, "color": {"datum": "Industrials Dimension 3", "scale": {"range": ["#7A68A6"]}, "legend": {"title": null, "orient": "top-right"}}}},
        {"mark": {"type": "line", "strokeWidth": 0.9, "color": "#7A68A6"}, "encoding": {}}
      ]
    },
    {
      "width": 264, "height": 82,
      "encoding": {
        "x": {"field": "date", "type": "temporal", "scale": {"type": "utc", "domain": [{"year": 2019, "month": 10, "date": 14, "utc": true}, {"year": 2024, "month": 7, "date": 24, "utc": true}]}, "axis": {"title": "Date", "format": "%Y-%m", "labelAngle": -80, "values": [{"year": 2020, "month": 1, "date": 1, "utc": true}, {"year": 2020, "month": 7, "date": 1, "utc": true}, {"year": 2021, "month": 1, "date": 1, "utc": true}, {"year": 2021, "month": 7, "date": 1, "utc": true}, {"year": 2022, "month": 1, "date": 1, "utc": true}, {"year": 2022, "month": 7, "date": 1, "utc": true}, {"year": 2023, "month": 1, "date": 1, "utc": true}, {"year": 2023, "month": 7, "date": 1, "utc": true}, {"year": 2024, "month": 1, "date": 1, "utc": true}, {"year": 2024, "month": 7, "date": 1, "utc": true}]}},
        "y": {"field": "d4", "type": "quantitative", "scale": {"domain": [-1.385, 1.585], "nice": false, "zero": false}, "axis": {"title": null, "values": [-1, -0.5, 0, 0.5, 1, 1.5], "tickCount": 12, "format": ".1f"}}
      },
      "layer": [
        {"mark": {"type": "area", "opacity": 0.5}, "encoding": {"y2": {"datum": 0}, "color": {"datum": "Industrials Dimension 4", "scale": {"range": ["#467821"]}, "legend": {"title": null, "orient": "bottom-left"}}}},
        {"mark": {"type": "line", "strokeWidth": 0.9, "color": "#467821"}, "encoding": {}}
      ]
    },
    {
      "width": 267, "height": 82,
      "encoding": {
        "x": {"field": "date", "type": "temporal", "scale": {"type": "utc", "domain": [{"year": 2019, "month": 10, "date": 14, "utc": true}, {"year": 2024, "month": 7, "date": 24, "utc": true}]}, "axis": {"title": "Date", "format": "%Y-%m", "labelAngle": -80, "values": [{"year": 2020, "month": 1, "date": 1, "utc": true}, {"year": 2020, "month": 7, "date": 1, "utc": true}, {"year": 2021, "month": 1, "date": 1, "utc": true}, {"year": 2021, "month": 7, "date": 1, "utc": true}, {"year": 2022, "month": 1, "date": 1, "utc": true}, {"year": 2022, "month": 7, "date": 1, "utc": true}, {"year": 2023, "month": 1, "date": 1, "utc": true}, {"year": 2023, "month": 7, "date": 1, "utc": true}, {"year": 2024, "month": 1, "date": 1, "utc": true}, {"year": 2024, "month": 7, "date": 1, "utc": true}]}},
        "y": {"field": "d5", "type": "quantitative", "scale": {"domain": [-1.29, 1.08], "nice": false, "zero": false}, "axis": {"title": null, "values": [-1, -0.5, 0, 0.5, 1], "tickCount": 12, "format": ".1f"}}
      },
      "layer": [
        {"mark": {"type": "area", "opacity": 0.5}, "encoding": {"y2": {"datum": 0}, "color": {"datum": "Industrials Dimension 5", "scale": {"range": ["#D55E00"]}, "legend": {"title": null, "orient": "bottom-left"}}}},
        {"mark": {"type": "line", "strokeWidth": 0.9, "color": "#D55E00"}, "encoding": {}}
      ]
    },
    {
      "width": 264, "height": 82,
      "encoding": {
        "x": {"field": "date", "type": "temporal", "scale": {"type": "utc", "domain": [{"year": 2019, "month": 10, "date": 14, "utc": true}, {"year": 2024, "month": 7, "date": 24, "utc": true}]}, "axis": {"title": "Date", "format": "%Y-%m", "labelAngle": -80, "values": [{"year": 2020, "month": 1, "date": 1, "utc": true}, {"year": 2020, "month": 7, "date": 1, "utc": true}, {"year": 2021, "month": 1, "date": 1, "utc": true}, {"year": 2021, "month": 7, "date": 1, "utc": true}, {"year": 2022, "month": 1, "date": 1, "utc": true}, {"year": 2022, "month": 7, "date": 1, "utc": true}, {"year": 2023, "month": 1, "date": 1, "utc": true}, {"year": 2023, "month": 7, "date": 1, "utc": true}, {"year": 2024, "month": 1, "date": 1, "utc": true}, {"year": 2024, "month": 7, "date": 1, "utc": true}]}},
        "y": {"field": "d6", "type": "quantitative", "scale": {"domain": [-0.76, 1.05], "nice": false, "zero": false}, "axis": {"title": null, "values": [-0.5, 0, 0.5, 1], "tickCount": 12, "format": ".1f"}}
      },
      "layer": [
        {"mark": {"type": "area", "opacity": 0.5}, "encoding": {"y2": {"datum": 0}, "color": {"datum": "Industrials Dimension 6", "scale": {"range": ["#CC79A7"]}, "legend": {"title": null, "orient": "top-left"}}}},
        {"mark": {"type": "line", "strokeWidth": 0.9, "color": "#CC79A7"}, "encoding": {}}
      ]
    },
    {
      "width": 267, "height": 82,
      "encoding": {
        "x": {"field": "date", "type": "temporal", "scale": {"type": "utc", "domain": [{"year": 2019, "month": 10, "date": 14, "utc": true}, {"year": 2024, "month": 7, "date": 24, "utc": true}]}, "axis": {"title": "Date", "format": "%Y-%m", "labelAngle": -80, "values": [{"year": 2020, "month": 1, "date": 1, "utc": true}, {"year": 2020, "month": 7, "date": 1, "utc": true}, {"year": 2021, "month": 1, "date": 1, "utc": true}, {"year": 2021, "month": 7, "date": 1, "utc": true}, {"year": 2022, "month": 1, "date": 1, "utc": true}, {"year": 2022, "month": 7, "date": 1, "utc": true}, {"year": 2023, "month": 1, "date": 1, "utc": true}, {"year": 2023, "month": 7, "date": 1, "utc": true}, {"year": 2024, "month": 1, "date": 1, "utc": true}, {"year": 2024, "month": 7, "date": 1, "utc": true}]}},
        "y": {"field": "d7", "type": "quantitative", "scale": {"domain": [-0.8, 1.01], "nice": false, "zero": false}, "axis": {"title": null, "values": [-0.5, 0, 0.5, 1], "tickCount": 12, "format": ".1f"}}
      },
      "layer": [
        {"mark": {"type": "area", "opacity": 0.5}, "encoding": {"y2": {"datum": 0}, "color": {"datum": "Industrials Dimension 7", "scale": {"range": ["#56B4E9"]}, "legend": {"title": null, "orient": "none", "legendX": 89, "legendY": 68}}}},
        {"mark": {"type": "line", "strokeWidth": 0.9, "color": "#56B4E9"}, "encoding": {}}
      ]
    },
    {
      "width": 264, "height": 82,
      "encoding": {
        "x": {"field": "date", "type": "temporal", "scale": {"type": "utc", "domain": [{"year": 2019, "month": 10, "date": 14, "utc": true}, {"year": 2024, "month": 7, "date": 24, "utc": true}]}, "axis": {"title": "Date", "format": "%Y-%m", "labelAngle": -80, "values": [{"year": 2020, "month": 1, "date": 1, "utc": true}, {"year": 2020, "month": 7, "date": 1, "utc": true}, {"year": 2021, "month": 1, "date": 1, "utc": true}, {"year": 2021, "month": 7, "date": 1, "utc": true}, {"year": 2022, "month": 1, "date": 1, "utc": true}, {"year": 2022, "month": 7, "date": 1, "utc": true}, {"year": 2023, "month": 1, "date": 1, "utc": true}, {"year": 2023, "month": 7, "date": 1, "utc": true}, {"year": 2024, "month": 1, "date": 1, "utc": true}, {"year": 2024, "month": 7, "date": 1, "utc": true}]}},
        "y": {"field": "d8", "type": "quantitative", "scale": {"domain": [-0.566, 0.446], "nice": false, "zero": false}, "axis": {"title": null, "values": [-0.4, -0.2, 0, 0.2, 0.4], "tickCount": 12, "format": ".1f"}}
      },
      "layer": [
        {"mark": {"type": "area", "opacity": 0.5}, "encoding": {"y2": {"datum": 0}, "color": {"datum": "Industrials Dimension 8", "scale": {"range": ["#009E73"]}, "legend": {"title": null, "orient": "bottom-left"}}}},
        {"mark": {"type": "line", "strokeWidth": 0.9, "color": "#009E73"}, "encoding": {}}
      ]
    }
  ],
  "resolve": {"scale": {"color": "independent"}, "legend": {"color": "independent"}},
  "config": {
    "font": "DejaVu Sans",
    "mark": {"invalid": "filter"},
    "view": {"fill": "#eeeeee", "stroke": "#bcbcbc", "strokeWidth": 0.8},
    "axis": {"labelFontSize": 6, "titleFontSize": 6, "titleFontWeight": "normal", "labelColor": "#222222", "titleColor": "#222222", "gridColor": "#d4d4d4", "gridWidth": 0.6, "domain": false, "tickColor": "#666666", "tickSize": 2, "labelPadding": 2, "titlePadding": 2, "labelOverlap": false, "minExtent": 0},
    "legend": {"labelFontSize": 6, "labelColor": "#222222", "fillColor": "#efefef", "strokeColor": "#cccccc", "cornerRadius": 2, "padding": 3, "offset": 3, "symbolType": "M-1,-0.35H1V0.35H-1Z", "symbolSize": 144, "symbolOpacity": 0.55, "symbolStrokeWidth": 0.6, "labelOffset": 4, "labelLimit": 0}
  }
}
